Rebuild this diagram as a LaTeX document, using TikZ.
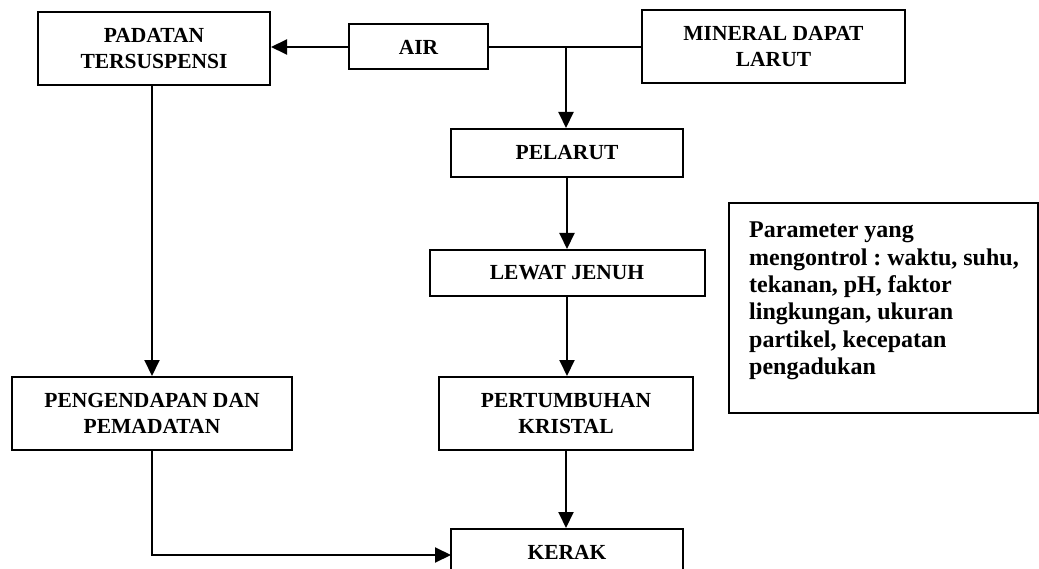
\documentclass[tikz,border=0pt]{standalone}
\usepackage{fontspec}
\setmainfont{Liberation Serif}
\frenchspacing
\usetikzlibrary{arrows.meta}
\begin{document}
\begin{tikzpicture}[x=1pt,y=-1pt,
  boxnode/.style={draw,line width=2pt,inner sep=0pt,align=center,
    font=\fontsize{21.5}{26}\selectfont\bfseries},
  conn/.style={line width=2pt},
  arr/.style={conn,-{Triangle[length=16pt,width=15pt]}}]
\useasboundingbox (0,0) rectangle (1039,569);
\node[boxnode,minimum width=232pt,minimum height=73pt] (pad) at (154,48.5) {PADATAN\\TERSUSPENSI};
\node[boxnode,minimum width=139pt,minimum height=45pt] (air) at (418.5,47) {AIR};
\node[boxnode,minimum width=263pt,minimum height=73pt] (min) at (773.5,46.5) {MINERAL DAPAT\\LARUT};
\node[boxnode,minimum width=232pt,minimum height=48pt] (pel) at (567,153) {PELARUT};
\node[boxnode,minimum width=275pt,minimum height=46pt] (lew) at (567,273) {LEWAT JENUH};
\node[boxnode,minimum width=254pt,minimum height=73pt] (per) at (566,413.5) {PERTUMBUHAN\\KRISTAL};
\node[boxnode,minimum width=280pt,minimum height=73pt] (pen) at (152,413.5) {PENGENDAPAN DAN\\PEMADATAN};
\node[boxnode,minimum width=232pt,minimum height=46pt] (ker) at (567,552) {KERAK};
\node[draw,line width=2pt,minimum width=309pt,minimum height=210pt,inner sep=0pt] (parbox) at (883.5,308) {};
\node[anchor=north west,inner sep=0pt,align=left,font=\fontsize{24}{27.3}\selectfont\bfseries] (partxt) at (749,222)
  {Parameter yang\\mengontrol : waktu, suhu,\\tekanan, pH, faktor\\lingkungan, ukuran\\partikel, kecepatan\\pengadukan};
\coordinate (br) at (566,47);
\coordinate (bend) at (152,555);
\coordinate (kin) at (451,555);
\draw[arr] (air.west) -- (pad.east |- air.west);
\draw[conn,line width=1.4pt] (air.east) -- (min.west |- air.east);
\draw[arr] (br) -- (br |- pel.north);
\draw[arr] (pel.south) -- (pel.south |- lew.north);
\draw[arr] (lew.south) -- (lew.south |- per.north);
\draw[arr] (per.south) -- (per.south |- ker.north);
\draw[arr] (pad.south -| pen.north) -- (pen.north);
\draw[arr] (pen.south) -- (bend) -- (kin);
\end{tikzpicture}
\end{document}
